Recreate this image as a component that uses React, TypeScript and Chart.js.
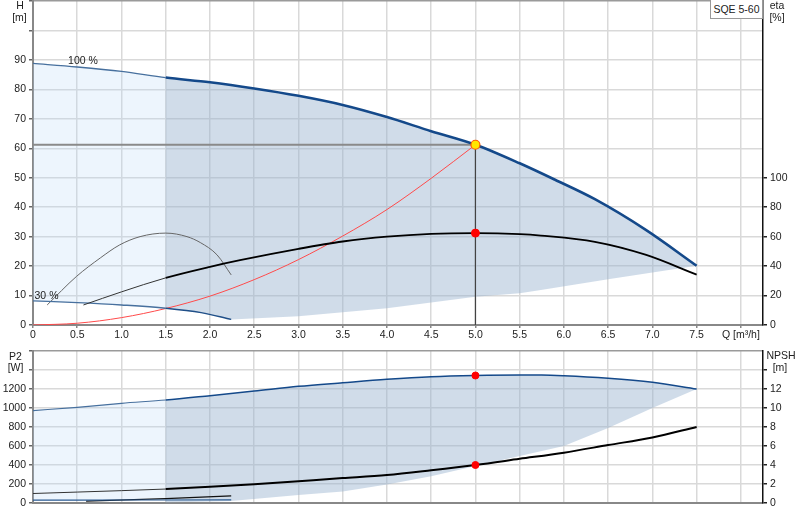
import React, { useEffect, useRef } from 'react';
import { Chart, registerables } from 'chart.js';

Chart.register(...registerables);

// ---- top panel: head / efficiency ----
const qH100 = [0, 0.5, 1.0, 1.5, 2.0, 2.5, 3.0, 3.5, 4.0, 4.5, 5.0, 5.5, 5.9, 6.35, 6.93, 7.5];
const hH100 = [88.8, 87.6, 86.1, 84.0, 82.4, 80.3, 77.8, 74.7, 70.6, 65.8, 61.2, 54.9, 49.3, 42.7, 32.2, 20.1];

const qH30 = [0, 0.5, 1.0, 1.5, 1.9, 2.24];
const hH30 = [8.2, 7.6, 6.8, 5.7, 4.2, 1.9];

const qEta100 = [0.57, 1.0, 1.5, 2.0, 2.34, 3.0, 3.5, 4.0, 4.5, 5.0, 5.5, 5.74, 6.35, 6.93, 7.5];
const eta100 = [13.6, 22.5, 32.0, 39.5, 44.0, 51.7, 56.7, 60.0, 61.9, 62.4, 61.7, 60.7, 56.5, 47.6, 34.2];

const qEta30 = [0.16, 0.49, 0.76, 0.98, 1.21, 1.5, 1.74, 1.89, 2.08, 2.24];
const eta30 = [13.6, 32.9, 45.5, 54.4, 60.0, 62.4, 60.0, 56.0, 47.6, 34.0];

const qSystem = [0, 0.5, 1.0, 1.5, 2.0, 2.5, 3.0, 3.5, 4.0, 4.5, 5.0];
const hSystem = [0, 0.6, 2.5, 5.6, 9.8, 15.4, 22.2, 30.2, 39.2, 49.8, 61.2];

const qShadeTop = [2.24, 3.0, 4.0, 5.0, 5.5, 5.74, 6.5, 7.5];
const hShadeTop = [1.9, 3.0, 5.7, 9.6, 10.8, 11.9, 15.5, 20.1];

// ---- bottom panel: power / NPSH ----
const qP2 = [0, 0.5, 1.0, 1.5, 2.0, 2.5, 3.0, 3.5, 4.0, 4.5, 5.0, 5.5, 5.75, 6.0, 6.5, 7.0, 7.5];
const p2_100 = [972, 1007, 1049, 1084, 1130, 1178, 1228, 1266, 1302, 1329, 1342, 1347, 1347, 1340, 1313, 1270, 1200];

const qP2_30 = [0, 0.5, 1.0, 1.5, 2.24];
const p2_30 = [30, 30, 31, 32, 33];

const qNpsh = [0, 0.5, 1.0, 1.5, 2.0, 2.5, 3.0, 3.5, 4.0, 4.5, 5.0, 5.5, 6.0, 6.5, 7.0, 7.5];
const npsh100 = [1.0, 1.15, 1.3, 1.47, 1.7, 1.98, 2.3, 2.62, 2.95, 3.45, 4.0, 4.65, 5.3, 6.1, 6.9, 8.0];

const qNpsh30 = [0.6, 1.5, 2.24];
const npsh30 = [0.2, 0.45, 0.74];

const qShadeBot = [1.5, 2.24, 3.0, 3.5, 4.0, 4.5, 5.0, 5.5, 6.0, 6.5, 7.0, 7.5];
const pShadeBot = [5, 22, 85, 122, 195, 282, 389, 495, 600, 789, 1000, 1200];

// duty point
const dutyQ = 5.0;
const dutyH = 61.2;
const dutyEta = 62.4;
const dutyP2 = 1342;
const dutyNpsh = 4.0;

const xTickLabel = (v: number) => (v === 8 ? 'Q [m³/h]' : v === 0 ? '0' : v.toFixed(1));

type Pt = { x: number; y: number };
const pts = (q: number[], v: number[]): Pt[] => q.map((x, i) => ({ x, y: v[i] }));
const range = (p: Pt[], a: number, b: number) => p.filter((d) => d.x >= a && d.x <= b);

const FONT = { family: 'Liberation Sans, Arial, sans-serif', size: 10.5 };
const GRID = '#d9d9d9';
const LIGHT = 'rgba(180,212,246,0.24)';
const SHADE = 'rgba(150,178,206,0.45)';

const split = 1.5 - 1e-9;
const inner = (c: any) => c.p0.parsed.x < split;

const fillSet = (data: Pt[], color: string, yAxisID = 'y') => ({
  data,
  yAxisID,
  fill: 'shape',
  backgroundColor: color,
  borderColor: 'rgba(0,0,0,0)',
  borderWidth: 0,
  pointRadius: 0,
  tension: 0,
  order: 10,
});

const xScale = (labels: boolean, height: number) => ({
  type: 'linear',
  min: 0,
  max: 8.25,
  ticks: {
    display: labels,
    stepSize: 0.5,
    includeBounds: false,
    autoSkip: false,
    maxRotation: 0,
    padding: 1,
    color: '#222',
    font: FONT,
    callback: (v: any) => xTickLabel(Number(v)),
  },
  grid: { color: GRID, lineWidth: 1.5, drawTicks: labels, tickLength: 3, tickColor: '#888' },
  border: { color: '#888', width: 2 },
  afterFit: (s: any) => {
    s.height = height;
    s.paddingLeft = 0;
    s.paddingRight = 0;
  },
});

const yScale = (max: number, step: number, lastLabel: number, pos: 'left' | 'right', onArea: boolean, tickMax: number) => ({
  type: 'linear',
  position: pos,
  min: 0,
  max,
  afterBuildTicks: (s: any) => {
    s.ticks = s.ticks.filter((t: any) => t.value <= tickMax);
  },
  ticks: {
    stepSize: step,
    includeBounds: false,
    padding: 3,
    color: '#222',
    font: FONT,
    callback: (v: any) => (Number(v) <= lastLabel ? String(v) : ''),
  },
  grid: {
    drawOnChartArea: onArea,
    color: (c: any) => (c.tick && c.tick.value === max ? '#9a9a9a' : GRID),
    lineWidth: 1.5,
    tickLength: 4,
    tickColor: pos === 'left' ? '#666' : '#222',
  },
  border: pos === 'left' ? { color: '#888', width: 2 } : { color: '#111', width: 1.5 },
  afterFit: (s: any) => {
    s.width = pos === 'left' ? 33 : 37;
    s.paddingTop = 0;
    s.paddingBottom = 0;
  },
});

const baseOptions = (scales: any, top: number) => ({
  responsive: false,
  animation: false,
  events: [],
  layout: { autoPadding: false, padding: { top, left: 0, right: 0, bottom: 0 } },
  plugins: { legend: { display: false }, tooltip: { enabled: false } },
  scales,
});

const Label: React.FC<{ x: number; y: number; text: string }> = ({ x, y, text }) => (
  <div
    style={{
      position: 'absolute',
      left: x,
      top: y,
      transform: 'translate(-50%, -50%)',
      font: '10.5px "Liberation Sans", Arial, sans-serif',
      color: '#222',
      whiteSpace: 'nowrap',
      lineHeight: 1,
    }}
  >
    {text}
  </div>
);

const App: React.FC = () => {
  const topRef = useRef<HTMLCanvasElement | null>(null);
  const botRef = useRef<HTMLCanvasElement | null>(null);

  useEffect(() => {
    if (!topRef.current || !botRef.current) return;

    const H100 = pts(qH100, hH100);
    const H30 = pts(qH30, hH30);
    const P2 = pts(qP2, p2_100);
    const P2s = pts(qP2_30, p2_30);

    const topChart = new Chart(topRef.current, {
      type: 'line',
      data: {
        datasets: [
          {
            data: [{ x: dutyQ, y: dutyH }],
            showLine: false,
            pointRadius: 4.5,
            pointBackgroundColor: '#ffe600',
            pointBorderColor: '#ff5a00',
            pointBorderWidth: 1.2,
            order: 0,
          },
          {
            data: [{ x: dutyQ, y: dutyEta }],
            yAxisID: 'eta',
            showLine: false,
            pointRadius: 4,
            pointBackgroundColor: '#ff0000',
            pointBorderColor: '#ff0000',
            order: 0,
          },
          {
            data: H100,
            borderColor: '#14498a',
            borderWidth: 2.6,
            pointRadius: 0,
            cubicInterpolationMode: 'monotone',
            segment: {
              borderWidth: (c: any) => (inner(c) ? 1.3 : 2.6),
              borderColor: (c: any) => (inner(c) ? '#47709e' : '#14498a'),
            },
            order: 1,
          },
          {
            data: pts(qEta100, eta100),
            yAxisID: 'eta',
            borderColor: '#000',
            borderWidth: 1.8,
            pointRadius: 0,
            cubicInterpolationMode: 'monotone',
            segment: {
              borderWidth: (c: any) => (inner(c) ? 1 : 1.8),
              borderColor: (c: any) => (inner(c) ? '#333' : '#000'),
            },
            order: 2,
          },
          {
            data: H30,
            borderColor: '#1f4f88',
            borderWidth: 1.4,
            pointRadius: 0,
            cubicInterpolationMode: 'monotone',
            segment: {
              borderColor: (c: any) => (inner(c) ? '#47709e' : '#1f4f88'),
            },
            order: 2,
          },
          {
            data: pts(qEta30, eta30),
            yAxisID: 'eta',
            borderColor: '#666',
            borderWidth: 1,
            pointRadius: 0,
            cubicInterpolationMode: 'monotone',
            order: 2,
          },
          {
            data: pts(qSystem, hSystem),
            borderColor: '#ff4a4a',
            borderWidth: 1,
            pointRadius: 0,
            cubicInterpolationMode: 'monotone',
            order: 2,
          },
          {
            data: [{ x: 0, y: dutyH }, { x: dutyQ, y: dutyH }],
            borderColor: '#8a8a8a',
            borderWidth: 1.8,
            pointRadius: 0,
            order: 3,
          },
          {
            data: [{ x: dutyQ, y: dutyH }, { x: dutyQ, y: 0 }],
            borderColor: '#444',
            borderWidth: 1,
            pointRadius: 0,
            order: 3,
          },
          fillSet([...range(H100, 0, 1.5), ...range(H30, 0, 1.5).reverse()], LIGHT),
          fillSet(
            [...range(H100, 1.5, 7.5), ...pts(qShadeTop, hShadeTop).reverse(), ...range(H30, 1.5, 2.24).reverse()],
            SHADE
          ),
        ] as any,
      },
      options: baseOptions(
        {
          x: xScale(true, 20),
          y: yScale(110, 10, 90, 'left', true, 110),
          eta: yScale(220, 20, 100, 'right', false, 100),
        },
        1
      ) as any,
    });

    const botChart = new Chart(botRef.current, {
      type: 'line',
      data: {
        datasets: [
          {
            data: [{ x: dutyQ, y: dutyP2 }],
            showLine: false,
            pointRadius: 3.5,
            pointBackgroundColor: '#ff0000',
            pointBorderColor: '#ff0000',
            order: 0,
          },
          {
            data: [{ x: dutyQ, y: dutyNpsh }],
            yAxisID: 'npsh',
            showLine: false,
            pointRadius: 3.5,
            pointBackgroundColor: '#ff0000',
            pointBorderColor: '#ff0000',
            order: 0,
          },
          {
            data: P2,
            borderColor: '#14498a',
            borderWidth: 1.5,
            pointRadius: 0,
            cubicInterpolationMode: 'monotone',
            segment: {
              borderWidth: (c: any) => (inner(c) ? 1.1 : 1.5),
              borderColor: (c: any) => (inner(c) ? '#47709e' : '#14498a'),
            },
            order: 1,
          },
          {
            data: pts(qNpsh, npsh100),
            yAxisID: 'npsh',
            borderColor: '#000',
            borderWidth: 2,
            pointRadius: 0,
            cubicInterpolationMode: 'monotone',
            segment: {
              borderWidth: (c: any) => (inner(c) ? 1 : 2),
              borderColor: (c: any) => (inner(c) ? '#333' : '#000'),
            },
            order: 1,
          },
          {
            data: P2s,
            borderColor: '#2a5a92',
            borderWidth: 1.1,
            pointRadius: 0,
            order: 2,
          },
          {
            data: pts(qNpsh30, npsh30),
            yAxisID: 'npsh',
            borderColor: '#111',
            borderWidth: 1.3,
            pointRadius: 0,
            order: 2,
          },
          fillSet([...range(P2, 0, 1.5), ...range(P2s, 0, 1.5).reverse()], LIGHT),
          fillSet([...range(P2, 1.5, 7.5), ...pts(qShadeBot, pShadeBot).reverse()], SHADE),
        ] as any,
      },
      options: baseOptions(
        {
          x: xScale(false, 17),
          y: yScale(1600, 200, 1200, 'left', true, 1600),
          npsh: yScale(16, 2, 12, 'right', false, 14),
        },
        6
      ) as any,
    });

    return () => {
      topChart.destroy();
      botChart.destroy();
    };
  }, []);

  return (
    <div style={{ position: 'fixed', left: 0, top: 0, width: 800, height: 520, background: '#fff', overflow: 'hidden' }}>
      <canvas ref={topRef} width={800} height={345} style={{ position: 'absolute', left: 0, top: 0 }} />
      <canvas ref={botRef} width={800} height={175} style={{ position: 'absolute', left: 0, top: 345 }} />
      <Label x={20} y={5} text="H" />
      <Label x={19.5} y={17} text="[m]" />
      <Label x={777} y={5} text="eta" />
      <Label x={777} y={17} text="[%]" />
      <Label x={83} y={60} text="100 %" />
      <Label x={46.5} y={295} text="30 %" />
      <Label x={15.5} y={356} text="P2" />
      <Label x={15.5} y={367} text="[W]" />
      <Label x={781} y={355} text="NPSH" />
      <Label x={780} y={367} text="[m]" />
      <div
        style={{
          position: 'absolute',
          left: 710,
          top: 0,
          width: 51,
          height: 18,
          border: '1px solid #999',
          borderTop: 'none',
          background: '#fff',
          font: '10.5px "Liberation Sans", Arial, sans-serif',
          color: '#222',
          lineHeight: '18px',
          textAlign: 'center',
        }}
      >
        SQE 5-60
      </div>
    </div>
  );
};

export default App;
